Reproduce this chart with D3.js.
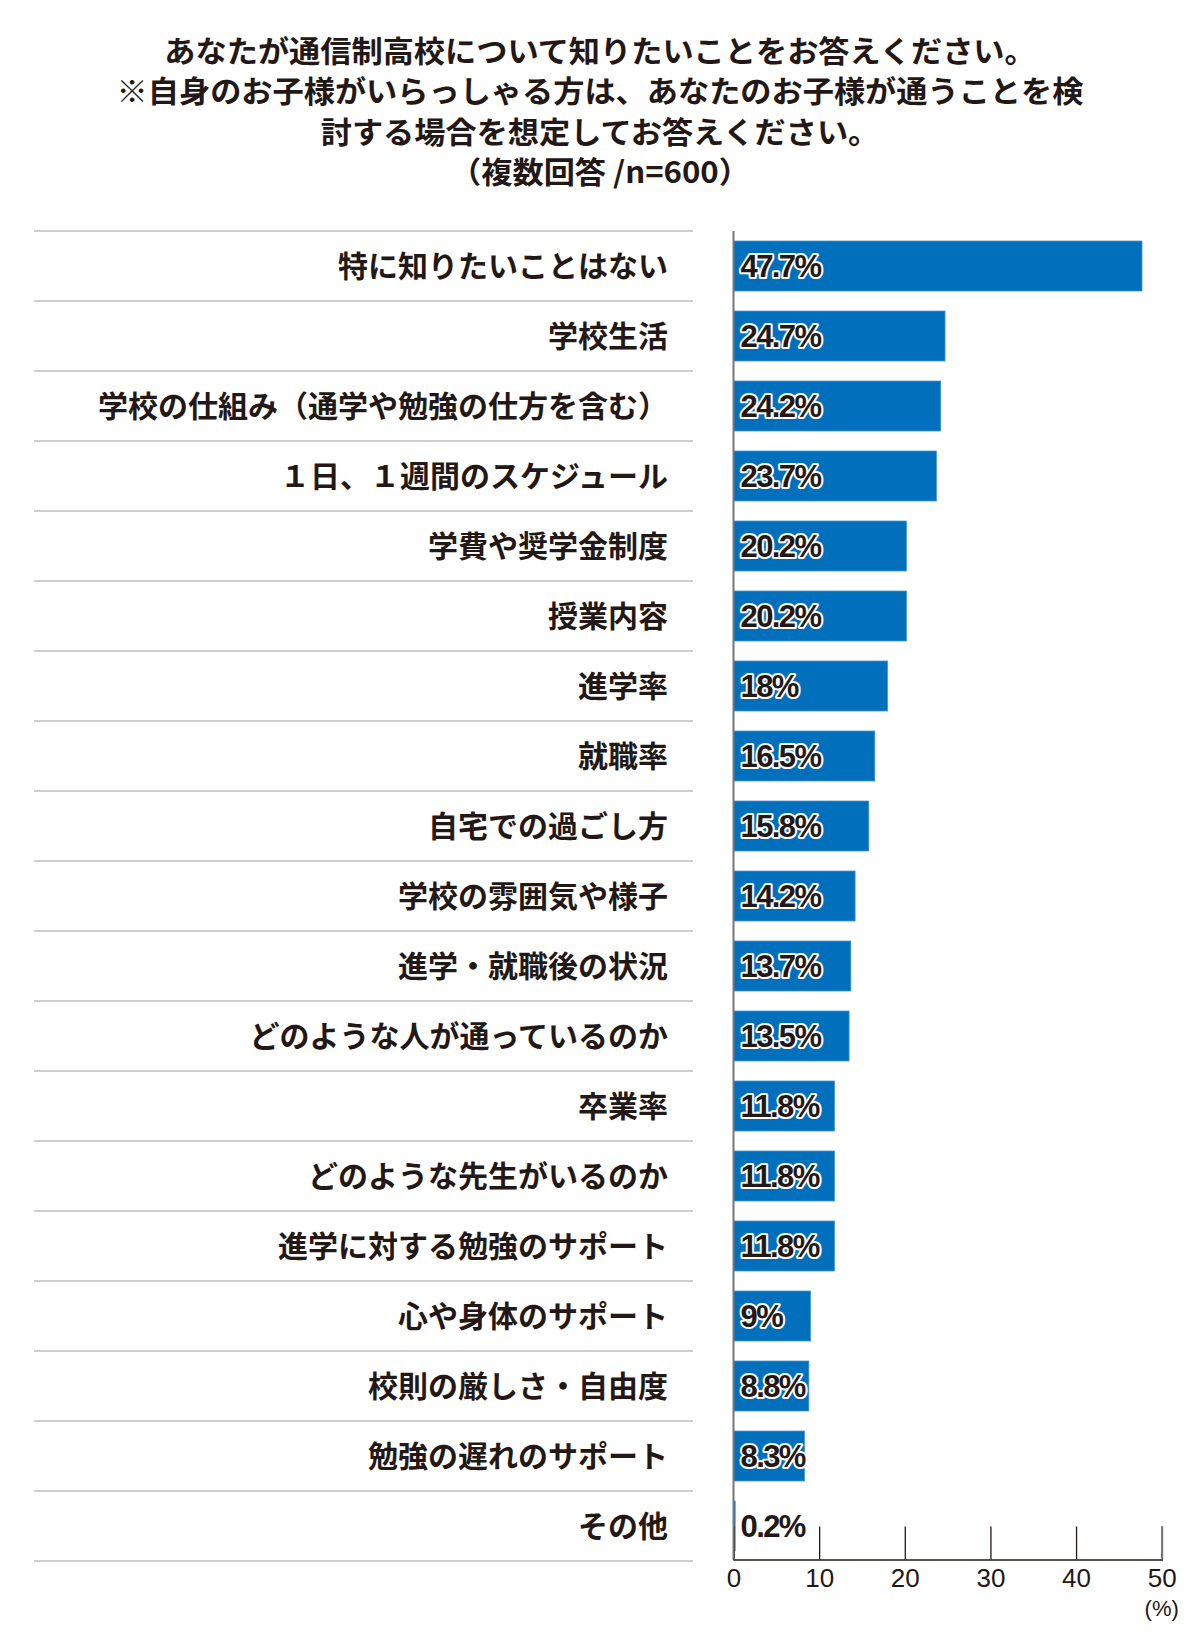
<!DOCTYPE html>
<html><head><meta charset="utf-8">
<script src="https://cdn.jsdelivr.net/npm/d3@7"></script>
<style>
body{margin:0;background:#fff;}
svg{display:block;}
</style></head>
<body>
<script>
const titleLines = [
  "あなたが通信制高校について知りたいことをお答えください。",
  "※自身のお子様がいらっしゃる方は、あなたのお子様が通うことを検",
  "討する場合を想定してお答えください。",
  "（複数回答 /n=600）"
];
const categories = [
  "特に知りたいことはない","学校生活","学校の仕組み（通学や勉強の仕方を含む）",
  "１日、１週間のスケジュール","学費や奨学金制度","授業内容","進学率","就職率",
  "自宅での過ごし方","学校の雰囲気や様子","進学・就職後の状況","どのような人が通っているのか",
  "卒業率","どのような先生がいるのか","進学に対する勉強のサポート","心や身体のサポート",
  "校則の厳しさ・自由度","勉強の遅れのサポート","その他"
];
const values = [47.7,24.7,24.2,23.7,20.2,20.2,18,16.5,15.8,14.2,13.7,13.5,11.8,11.8,11.8,9,8.8,8.3,0.2];
const tickValues = [0,10,20,30,40,50];
const unitLabel = "(%)";

const W = 1200, H = 1650;
const svg = d3.select("body").append("svg").attr("width", W).attr("height", H);
const ink = "#231815";
const jp = "'Noto Sans CJK JP','Noto Sans',sans-serif";
const narrow = "'Liberation Sans Narrow','Liberation Sans',sans-serif";

// Title
svg.append("g").attr("transform", "translate(600,0) scale(1.04,1)")
  .selectAll("text").data(titleLines).join("text")
  .attr("x", 0).attr("y", (d,i)=> 62 + i*40.4)
  .attr("text-anchor","middle")
  .attr("font-family", jp).attr("font-weight", 700).attr("font-size", 30)
  .attr("fill", ink)
  .text(d=>d);

const topY = 231, rowH = 70;
const y = d3.scaleBand().domain(categories).range([topY, topY + rowH*categories.length]).paddingInner(20/70).paddingOuter(10/70);
const x = d3.scaleLinear().domain([0,50]).range([733.5, 1161.7]);

// separators
const sepY = d3.range(categories.length+1).map(i => topY + i*rowH);
svg.append("g").selectAll("line").data(sepY).join("line")
  .attr("x1", 34).attr("x2", 693).attr("y1", d=>d).attr("y2", d=>d)
  .attr("stroke", "#cfcfcf").attr("stroke-width", 2);

// category labels
svg.append("g").selectAll("text").data(categories).join("text")
  .attr("x", 668).attr("y", d=> y(d) + y.bandwidth()/2)
  .attr("dy","0.37em")
  .attr("text-anchor","end")
  .attr("font-family", jp).attr("font-weight", 700).attr("font-size", 30)
  .attr("fill", ink)
  .text(d=>d);

// bars
svg.append("g").selectAll("rect").data(values).join("rect")
  .attr("x", x(0)).attr("y", (d,i)=> y(categories[i]))
  .attr("width", d=> x(d)-x(0)).attr("height", y.bandwidth())
  .attr("fill", "#0070bc").attr("stroke","#4a98d6").attr("stroke-width",0.8);

// axis
const axisY = 1559.5;
const axis = d3.axisBottom(x).tickValues(tickValues).tickSize(-33).tickPadding(9).tickFormat(d3.format("d"));
const ag = svg.append("g").attr("transform", `translate(0,${axisY})`).call(axis);
ag.select(".domain").attr("stroke", ink).attr("stroke-width", 1.5);
ag.selectAll(".tick line").attr("stroke", (d)=> d===50 ? "#777" : ink).attr("stroke-width", d=> d===50 ? 2 : 1.3);
ag.selectAll(".tick text").attr("font-family", narrow)
  .attr("font-size", 26).attr("fill", ink);
svg.append("text").attr("x", x(50)).attr("y", 1616).attr("text-anchor","middle")
  .attr("font-family", narrow).attr("font-size", 22).attr("fill", ink)
  .text(unitLabel);

// vertical axis line
svg.append("line").attr("x1", x(0)).attr("x2", x(0)).attr("y1", topY).attr("y2", axisY)
  .attr("stroke", "#777").attr("stroke-width", 2);

// value labels
svg.append("g").selectAll("text").data(values).join("text")
  .attr("x", x(0) + 7).attr("y", (d,i)=> y(categories[i]) + y.bandwidth()/2)
  .attr("dy","0.36em")
  .attr("font-family", narrow)
  .attr("font-weight", 700).attr("font-size", 31).attr("letter-spacing", -1.6)
  .attr("fill", ink).attr("stroke", "#fff").attr("stroke-width", 4).attr("stroke-linejoin","round")
  .attr("paint-order","stroke")
  .text(d=> d + "%");
</script>
</body></html>
